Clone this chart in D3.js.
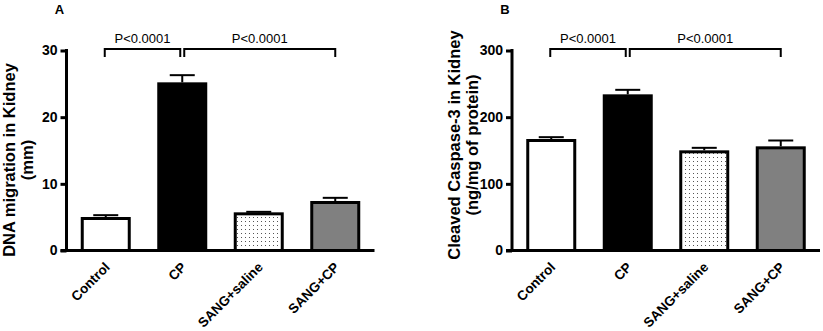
<!DOCTYPE html>
<html>
<head>
<meta charset="utf-8">
<script src="https://cdn.jsdelivr.net/npm/d3@7"></script>
<style>
  body { margin: 0; background: #fff; }
  text { font-family: Arial, "Liberation Sans", sans-serif; }
</style>
</head>
<body>
<svg id="chart" width="823" height="331"></svg>
<script>
// groups on the x axis
var groups = ["Control", "CP", "SANG+saline", "SANG+CP"];

// panel A: DNA migration (mm)
var dnaMean = [4.8, 25.0, 5.5, 7.2];
var dnaSem = [0.5, 1.3, 0.3, 0.7];
var dnaTicks = [0, 10, 20, 30];

// panel B: cleaved caspase-3 (ng/mg of protein)
var caspMean = [165, 232, 148, 154];
var caspSem = [5, 9, 6, 11];
var caspTicks = [0, 100, 200, 300];

var pLabel = "P<0.0001";

var svg = d3.select("#chart");

var defs = svg.append("defs");
var pat = defs.append("pattern")
    .attr("id", "dots")
    .attr("patternUnits", "userSpaceOnUse")
    .attr("width", 4)
    .attr("height", 4);
pat.append("rect").attr("width", 4).attr("height", 4).attr("fill", "#fff");
pat.append("rect").attr("x", 1).attr("y", 1).attr("width", 1).attr("height", 1).attr("fill", "#555");

var fills = ["#ffffff", "#000000", "url(#dots)", "#808080"];

var panels = [
  {letter: "A", ox: 66.5, mean: dnaMean, sem: dnaSem, ticks: dnaTicks,
   title: ["DNA migration in Kidney", "(mm)"], titleY: 160},
  {letter: "B", ox: 512, mean: caspMean, sem: caspSem, ticks: caspTicks,
   title: ["Cleaved Caspase-3 in Kidney", "(ng/mg of protein)"], titleY: 145}
];

var y0 = 250.5, y1 = 50.5;

panels.forEach(function(p) {
  var g = svg.append("g");
  var ymax = p.ticks[p.ticks.length - 1];

  var y = d3.scaleLinear().domain([0, ymax]).range([y0, y1]);
  var x = d3.scaleBand().domain(groups)
      .range([p.ox + 1, p.ox + 307])
      .padding(0);
  var cx = function(d) { return x(d) + x.bandwidth() / 2; };
  var barW = 47;

  // bars
  g.selectAll("rect.bar")
    .data(groups)
    .join("rect")
      .attr("class", "bar")
      .attr("x", d => cx(d) - barW / 2)
      .attr("width", barW)
      .attr("y", (d, i) => y(p.mean[i]))
      .attr("height", (d, i) => y0 - y(p.mean[i]))
      .attr("fill", (d, i) => fills[i])
      .attr("stroke", "#000")
      .attr("stroke-width", 3);

  // error bars (upper only)
  g.selectAll("line.err")
    .data(groups)
    .join("line")
      .attr("class", "err")
      .attr("x1", cx).attr("x2", cx)
      .attr("y1", (d, i) => y(p.mean[i]) - 1.5)
      .attr("y2", (d, i) => y(p.mean[i] + p.sem[i]))
      .attr("stroke", "#000")
      .attr("stroke-width", 2);
  g.selectAll("line.cap")
    .data(groups)
    .join("line")
      .attr("class", "cap")
      .attr("x1", d => cx(d) - 12.5).attr("x2", d => cx(d) + 12.5)
      .attr("y1", (d, i) => y(p.mean[i] + p.sem[i]))
      .attr("y2", (d, i) => y(p.mean[i] + p.sem[i]))
      .attr("stroke", "#000")
      .attr("stroke-width", 2);

  // y axis
  var yAxis = d3.axisLeft(y).tickValues(p.ticks).tickSize(6).tickPadding(3);
  var ya = g.append("g")
      .attr("transform", "translate(" + p.ox + ",0)")
      .call(yAxis);
  ya.select(".domain").attr("d", "M0," + (y0 + 1.5) + "V" + (y1 - 1.5)).attr("stroke-width", 3);
  ya.selectAll(".tick line").attr("stroke-width", 3);
  ya.selectAll(".tick text")
      .style("font-size", "14px")
      .style("font-weight", "bold")
      .attr("fill", "#000");

  // x axis line
  g.append("line")
      .attr("x1", p.ox - 6).attr("x2", p.ox + 308)
      .attr("y1", y0).attr("y2", y0)
      .attr("stroke", "#000")
      .attr("stroke-width", 3);

  // x labels
  g.selectAll("text.xlab")
    .data(groups)
    .join("text")
      .attr("class", "xlab")
      .attr("transform", d => "translate(" + (cx(d) + 5) + "," + 268 + ") rotate(-45)")
      .attr("text-anchor", "end")
      .style("font-size", "13.5px")
      .style("font-weight", "bold")
      .text(d => d);

  // y title
  var t = g.append("text")
      .attr("transform", "translate(" + (p.ox - 52) + "," + p.titleY + ") rotate(-90)")
      .attr("text-anchor", "middle")
      .style("font-size", "16.5px")
      .style("font-weight", "bold");
  p.title.forEach(function(s, i) {
    t.append("tspan").attr("x", 0).attr("dy", i == 0 ? 0 : 18).text(s);
  });

  // panel letter
  g.append("text")
      .attr("x", p.ox - 7)
      .attr("y", 14)
      .attr("text-anchor", "middle")
      .style("font-size", "13px")
      .style("font-weight", "bold")
      .text(p.letter);

  // significance brackets
  var brackets = [
    {a: cx(groups[0]) - 1, b: cx(groups[1]) - 2},
    {a: cx(groups[1]) + 2, b: cx(groups[3])}
  ];
  var by = 49, tip = 57;
  brackets.forEach(function(br) {
    g.append("path")
        .attr("d", "M" + br.a + "," + tip + "V" + by + "H" + br.b + "V" + tip)
        .attr("fill", "none")
        .attr("stroke", "#000")
        .attr("stroke-width", 2);
    g.append("text")
        .attr("x", (br.a + br.b) / 2)
        .attr("y", 43)
        .attr("text-anchor", "middle")
        .style("font-size", "13px")
        .text(pLabel);
  });
});
</script>
</body>
</html>
